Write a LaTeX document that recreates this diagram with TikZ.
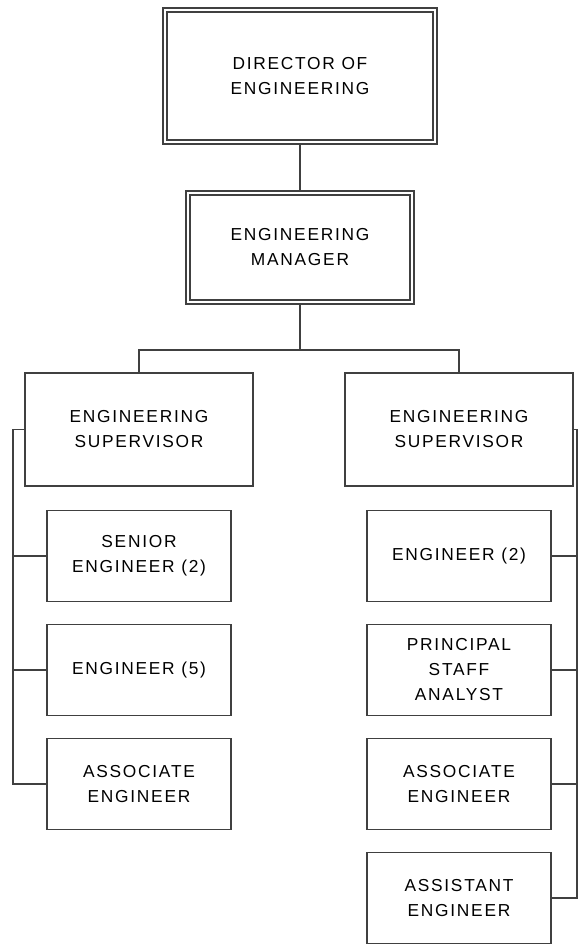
\documentclass[tikz,border=0pt]{standalone}
\usepackage{fontspec}
\setmainfont{Liberation Sans}[LetterSpace=10]
\usepackage{tikz}
\usetikzlibrary{positioning}
\definecolor{rule}{gray}{0.25}

\begin{document}
\begin{tikzpicture}[x=0.75pt,y=-0.75pt,
    box/.style={draw=rule,line width=1.4pt,fill=white,align=center,inner sep=0pt,
                font=\fontsize{13pt}{18.75pt}\selectfont},
    head/.style={box,double,double distance=1.9pt,line width=1.1pt},
    sub/.style={box,minimum width=138pt,minimum height=68.25pt},
    link/.style={rule,line width=1.4pt}]
    \useasboundingbox (0,0) rectangle (578,945);
    \node[head,minimum width=202.5pt,minimum height=99pt] (director) at (300,76) {DIRECTOR OF\\ENGINEERING};
    \node[head,minimum width=168pt,minimum height=81.75pt] (manager) at (300,247.5) {ENGINEERING\\MANAGER};
    \draw[link,shorten <=1.5pt,shorten >=1.5pt] (director.south)--(manager.north);

    \node[box,minimum width=171pt,minimum height=84.75pt] (supL) at (139,429.5) {ENGINEERING\\SUPERVISOR};
    \node[box,minimum width=171pt,minimum height=84.75pt] (supR) at (459,429.5) {ENGINEERING\\SUPERVISOR};
    \coordinate (split) at (300,350);
    \draw[link,shorten <=1.5pt] (manager.south)--(split);
    \draw[link] (supL.north) |- (split) -| (supR.north);

    \node[sub] (senior) at (139,556) {SENIOR\\ENGINEER (2)};
    \node[sub] (engL) at (139,670) {ENGINEER (5)};
    \node[sub] (assocL) at (139,784) {ASSOCIATE\\ENGINEER};
    \coordinate (lbus) at (13,0);
    \draw[link] (supL.west) -| (lbus |- assocL.west)--(assocL.west);
    \draw[link] (senior.west)--(senior.west -| lbus);
    \draw[link] (engL.west)--(engL.west -| lbus);

    \node[sub] (engR) at (459,556) {ENGINEER (2)};
    \node[sub] (principal) at (459,670) {PRINCIPAL\\STAFF\\ANALYST};
    \node[sub] (assocR) at (459,784) {ASSOCIATE\\ENGINEER};
    \node[sub] (assist) at (459,898) {ASSISTANT\\ENGINEER};
    \coordinate (rbus) at (577,0);
    \draw[link] (supR.east) -| (rbus |- assist.east)--(assist.east);
    \draw[link] (engR.east)--(engR.east -| rbus);
    \draw[link] (principal.east)--(principal.east -| rbus);
    \draw[link] (assocR.east)--(assocR.east -| rbus);
\end{tikzpicture}
\end{document}
